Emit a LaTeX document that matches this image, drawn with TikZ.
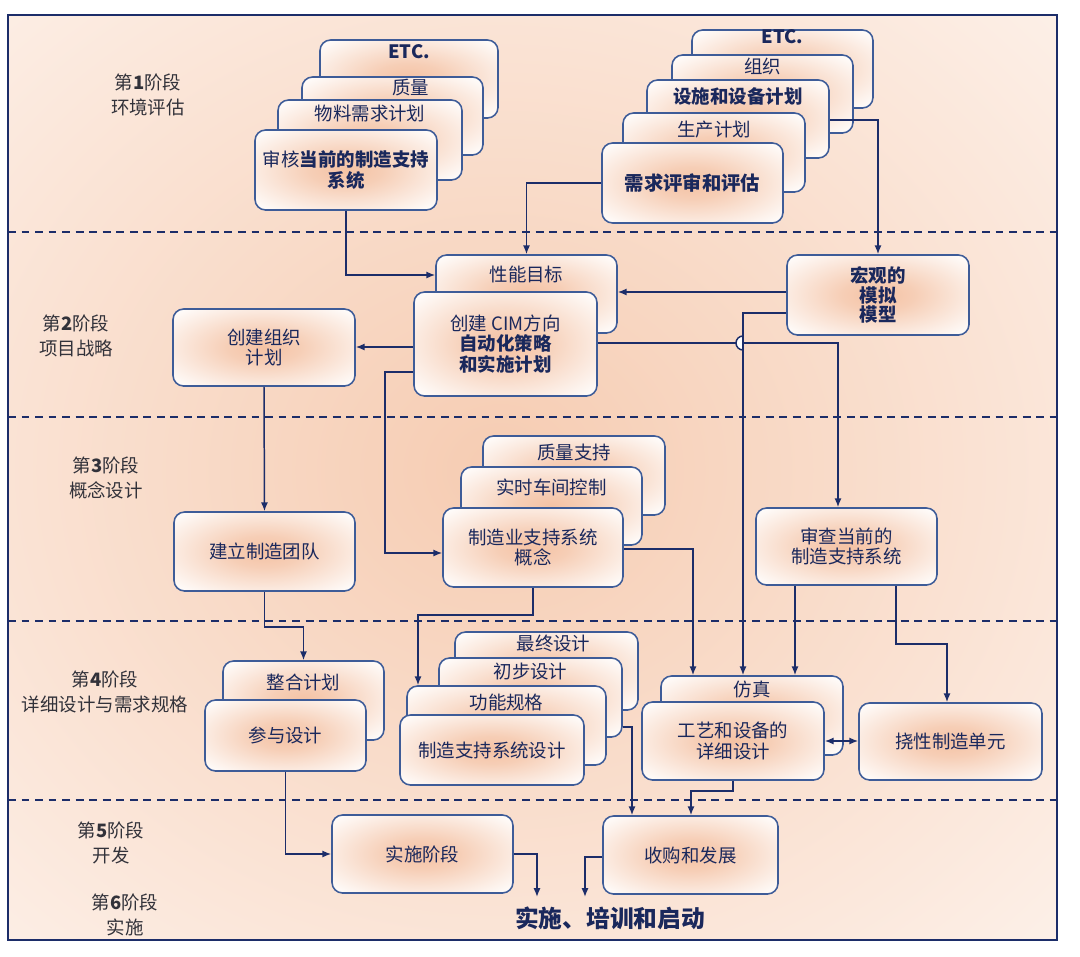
\documentclass[tikz,border=0pt]{standalone}
\usepackage{fontspec}
\setmainfont{Noto Sans CJK SC}
\usetikzlibrary{arrows.meta,calc}
\definecolor{navy}{RGB}{28,45,105}
\definecolor{boxline}{RGB}{62,92,152}
\definecolor{boxtext}{RGB}{26,40,92}
\definecolor{boxpeach}{RGB}{244,194,164}
\definecolor{bgpeach}{RGB}{246,204,178}
\definecolor{bglight}{RGB}{253,242,235}
\definecolor{phasetext}{RGB}{50,50,58}
\pgfdeclareradialshading{boxglow}{\pgfpoint{0bp}{0bp}}{%
  color(0bp)=(boxpeach); color(10bp)=(boxpeach!80!white);
  color(35bp)=(white); color(50bp)=(white)}

\begin{document}
\begin{tikzpicture}[x=0.02cm,y=-0.02cm,
    box/.style={draw=boxline,line width=0.9pt,rounded corners=6pt,
                shading=boxglow,text=boxtext,
                font={\fontsize{10.5}{11.5}\selectfont},align=center,inner sep=0pt},
    sz/.style 2 args={minimum width=#1*0.02cm,minimum height=#2*0.02cm},
    lab/.style={anchor=center,text=boxtext,font={\fontsize{10.5}{11.5}\selectfont}},
    phase/.style={text=phasetext,align=center,font={\fontsize{10.5}{14}\selectfont}},
    phaseline/.style={navy,line width=0.85pt,dash pattern=on 4.5pt off 3.2pt},
    arr/.style={-{Latex[length=5pt,width=4pt]},navy,line width=0.85pt},
    darr/.style={{Latex[length=5pt,width=4pt]}-{Latex[length=5pt,width=4pt]},navy,line width=0.85pt},
  ]
  \useasboundingbox (0,0) rectangle (1080,957);

  % background and frame
  \begin{scope}
    \clip (8,15) rectangle (1057,940);
    \shade[inner color=bgpeach,outer color=bglight] (500,470) ellipse (820 and 720);
  \end{scope}
  \draw[navy,line width=1.3pt] (8,15) rectangle (1057,940);
  \foreach \y in {232,417,621,800}
    \draw[phaseline] (8,\y) -- (1057,\y);

  % phase labels
  \node[phase] (ph1) at (148,95) {第\textbf{1}阶段\\环境评估};
  \node[phase] (ph2) at (76,336) {第\textbf{2}阶段\\项目战略};
  \node[phase] (ph3) at (106,478) {第\textbf{3}阶段\\概念设计};
  \node[phase] (ph4) at (105,692) {第\textbf{4}阶段\\详细设计与需求规格};
  \node[phase] (ph5) at (111,843) {第\textbf{5}阶段\\开发};
  \node[phase] (ph6) at (125,915) {第\textbf{6}阶段\\实施};

  % phase 1, left stack
  \node[box,shade,sz={178}{78},label={[lab,yshift=-0.24cm]north:\bfseries ETC.}] (etcL) at (409,79) {};
  \node[box,shade,sz={181}{78},label={[lab,xshift=0.36cm,yshift=-0.22cm]north:质量}] (qualL) at (392.5,116) {};
  \node[box,shade,sz={184}{80},label={[lab,yshift=-0.28cm]north:物料需求计划}] (mrp) at (370,140) {};
  \node[box,shade,sz={182}{80}] (audit) at (346,170) {审核\textbf{当前的制造支持}\\\textbf{系统}};

  % phase 1, right stack
  \node[box,shade,sz={181}{78},label={[lab,yshift=-0.14cm]north:\bfseries ETC.}] (etcR) at (782.5,69) {};
  \node[box,shade,sz={181}{78},label={[lab,yshift=-0.24cm]north:组织}] (orgR) at (762.5,94) {};
  \node[box,shade,sz={182}{78},label={[lab,yshift=-0.34cm]north:\bfseries 设施和设备计划}] (facil) at (738,119) {};
  \node[box,shade,sz={182}{79},label={[lab,yshift=-0.34cm]north:生产计划}] (prod) at (714,152.5) {};
  \node[box,shade,sz={181}{80},font={\fontsize{11}{12}\selectfont\bfseries}] (needs) at (692.5,183) {需求评审和评估};

  % phase 2
  \node[box,shade,sz={181}{78},label={[lab,yshift=-0.4cm]north:性能目标}] (perf) at (526.5,294) {};
  \node[box,shade,sz={183}{104}] (cim) at (505.5,344) {创建 CIM方向\\\textbf{自动化策略}\\\textbf{和实施计划}};
  \node[box,shade,sz={182}{80},font={\fontsize{10.5}{11}\selectfont\bfseries}] (macro) at (878,295) {宏观的\\模拟\\模型};
  \node[box,shade,sz={182}{77}] (orgplan) at (264,347.5) {创建组织\\计划};

  % phase 3
  \node[box,shade,sz={182}{79},label={[lab,yshift=-0.34cm]north:质量支持}] (qsup) at (574,475.5) {};
  \node[box,shade,sz={181}{78},label={[lab,yshift=-0.42cm]north:实时车间控制}] (shop) at (551.5,506) {};
  \node[box,shade,sz={180}{79}] (concept) at (533,547.5) {制造业支持系统\\概念};
  \node[box,shade,sz={181}{79}] (team) at (264.5,551.5) {建立制造团队};
  \node[box,shade,sz={181}{77}] (review) at (846.5,546.5) {审查当前的\\制造支持系统};

  % phase 4
  \node[box,shade,sz={161}{79},label={[lab,yshift=-0.44cm]north:整合计划}] (merge) at (303.5,700.5) {};
  \node[box,shade,sz={161}{71}] (part) at (285.5,735.5) {参与设计};
  \node[box,shade,sz={183}{78},label={[lab,xshift=0.14cm,yshift=-0.24cm]north:最终设计}] (final) at (546.5,671) {};
  \node[box,shade,sz={183}{79},label={[lab,yshift=-0.28cm]north:初步设计}] (prelim) at (530.5,697.5) {};
  \node[box,shade,sz={199}{79},label={[lab,yshift=-0.34cm]north:功能规格}] (func) at (506.5,725.5) {};
  \node[box,shade,sz={184}{70}] (design) at (492,750) {制造支持系统设计};
  \node[box,shade,sz={182}{79},label={[lab,yshift=-0.28cm]north:仿真}] (sim) at (752,715.5) {};
  \node[box,shade,sz={182}{78}] (detail) at (733,741) {工艺和设备的\\详细设计};
  \node[box,shade,sz={183}{77}] (fmc) at (950.5,741.5) {挠性制造单元};

  % phase 5 and 6
  \node[box,shade,sz={181}{78}] (impl) at (422.5,854) {实施阶段};
  \node[box,shade,sz={175}{78}] (acq) at (690.5,855) {收购和发展};
  \node[text=boxtext,font={\fontsize{13.5}{15}\selectfont\bfseries}] (launch) at (610,918) {实施、培训和启动};
  \coordinate (launchA) at (537,897);
  \coordinate (launchB) at (585,897);

  % connectors
  \draw[arr] (audit.south) |- (perf.west |- 0,275);
  \draw[arr] (needs.west |- 0,183) -| (perf.north);
  \draw[arr] (facil.east |- 0,120) -| (macro.north);
  \draw[arr] (macro.west |- 0,292) -- (perf.east |- 0,292);
  \draw[arr] (cim.east |- 0,343) -| (review.north -| 838,0);
  \filldraw[navy,fill=white,line width=0.85pt] (743,336) arc[start angle=270,end angle=90,radius=7] -- cycle;
  \draw[arr] (macro.west |- 0,313) -| (sim.north -| 743,0);
  \draw[arr] (cim.west |- 0,347) -- (orgplan.east |- 0,347);
  \draw[arr] (cim.west |- 0,372) -| (385,553) -- (concept.west |- 0,553);
  \draw[arr] (orgplan.south) -- (team.north);
  \draw[arr] (team.south) -- ++(0,35) -| (merge.north);
  \draw[arr] (concept.south) -- ++(0,27) -| (func.north -| 418,0);
  \draw[arr] (concept.east |- 0,549) -| (sim.north -| 693,0);
  \draw[arr] (review.south -| 795,0) -- (sim.north -| 795,0);
  \draw[arr] (review.south -| 896,0) -- (896,644) -| (fmc.north -| 947,0);
  \draw[darr] (detail.east) -- (fmc.west |- detail.east);
  \draw[arr] (part.south) |- (impl.west);
  \draw[arr] (prelim.east |- 0,727) -| (acq.north -| 632,0);
  \draw[arr] (detail.south) -- ++(0,10) -| (acq.north -| 691,0);
  \draw[arr] (impl.east) -| (launchA);
  \draw[arr] (acq.west |- 0,857) -| (launchB);
\end{tikzpicture}
\end{document}
